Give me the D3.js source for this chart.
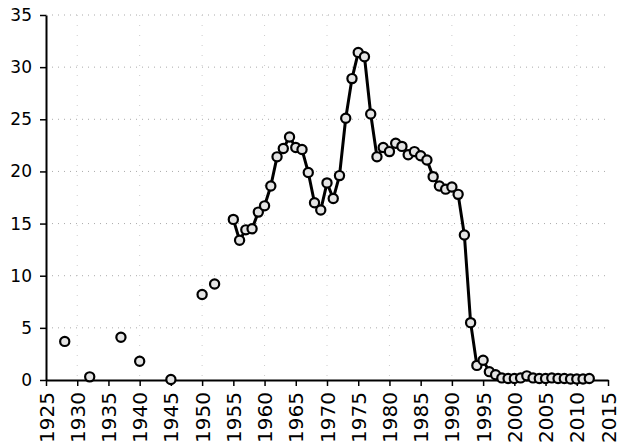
<!DOCTYPE html>
<html>
<head>
<meta charset="utf-8">
<script src="https://cdn.jsdelivr.net/npm/d3@7"></script>
<style>
  html, body { margin: 0; padding: 0; background: #fff; }
  svg { display: block; }
</style>
</head>
<body>
<svg id="chart" width="620" height="443"></svg>
<script>
// Early, unconnected observations
const scatterYears  = [1928, 1932, 1937, 1940, 1945, 1950, 1952];
const scatterValues = [3.7, 0.3, 4.1, 1.8, 0.05, 8.2, 9.2];

// Continuous annual series (connected)
const lineYears = [
  1955, 1956, 1957, 1958, 1959, 1960, 1961, 1962, 1963, 1964,
  1965, 1966, 1967, 1968, 1969, 1970, 1971, 1972, 1973, 1974,
  1975, 1976, 1977, 1978, 1979, 1980, 1981, 1982, 1983, 1984,
  1985, 1986, 1987, 1988, 1989, 1990, 1991, 1992, 1993, 1994,
  1995, 1996, 1997, 1998, 1999, 2000, 2001, 2002, 2003, 2004,
  2005, 2006, 2007, 2008, 2009, 2010, 2011, 2012
];
const lineValues = [
  15.4, 13.4, 14.4, 14.5, 16.1, 16.7, 18.6, 21.4, 22.2, 23.3,
  22.3, 22.1, 19.9, 17.0, 16.3, 18.9, 17.4, 19.6, 25.1, 28.9,
  31.4, 31.0, 25.5, 21.4, 22.3, 21.9, 22.7, 22.4, 21.6, 21.9,
  21.5, 21.1, 19.5, 18.6, 18.3, 18.5, 17.8, 13.9, 5.5, 1.4,
  1.9, 0.8, 0.5, 0.2, 0.15, 0.15, 0.2, 0.4, 0.2, 0.15,
  0.15, 0.2, 0.15, 0.15, 0.1, 0.1, 0.1, 0.15
];

const xTicks = [1925, 1930, 1935, 1940, 1945, 1950, 1955, 1960, 1965, 1970,
                1975, 1980, 1985, 1990, 1995, 2000, 2005, 2010, 2015];
const yTicks = [0, 5, 10, 15, 20, 25, 30, 35];

const svg = d3.select("#chart");
const margin = { left: 46, right: 12, top: 15, bottom: 63 };
const W = 620, H = 443;

const x = d3.scaleLinear().domain([1925, 2015]).range([margin.left, W - margin.right]);
const y = d3.scaleLinear().domain([0, 35]).range([H - margin.bottom, margin.top]);

// faint dotted gridlines
svg.append("g")
  .selectAll("line")
  .data(yTicks.slice(1))
  .join("line")
  .attr("x1", margin.left).attr("x2", W - margin.right)
  .attr("y1", d => y(d)).attr("y2", d => y(d))
  .attr("stroke", "#aaa").attr("stroke-width", 1)
  .attr("stroke-dasharray", "1,5");

svg.append("g")
  .selectAll("line")
  .data(xTicks.filter(d => d % 10 === 0))
  .join("line")
  .attr("x1", d => x(d)).attr("x2", d => x(d))
  .attr("y1", margin.top).attr("y2", H - margin.bottom)
  .attr("stroke", "#ccc").attr("stroke-width", 1)
  .attr("stroke-dasharray", "1,9");

const font = "'DejaVu Sans', sans-serif";

// axes
const yAxis = svg.append("g")
  .attr("transform", `translate(${margin.left},0)`)
  .call(d3.axisLeft(y).tickValues(yTicks).tickSize(6).tickSizeOuter(0).tickPadding(8));
yAxis.select(".domain").attr("stroke", "#000").attr("stroke-width", 2);
yAxis.selectAll(".tick line").attr("stroke", "#000").attr("stroke-width", 1.5);
yAxis.selectAll("text")
  .attr("fill", "#000")
  .style("font-family", font).style("font-size", "17px");

const xAxis = svg.append("g")
  .attr("transform", `translate(0,${H - margin.bottom})`)
  .call(d3.axisBottom(x).tickValues(xTicks).tickFormat(d3.format("d")).tickSize(6).tickSizeOuter(0).tickPadding(6));
xAxis.select(".domain").attr("stroke", "#000").attr("stroke-width", 2);
xAxis.selectAll(".tick line").attr("stroke", "#000").attr("stroke-width", 1.5);
xAxis.selectAll("text")
  .attr("fill", "#000")
  .attr("transform", "rotate(-90)")
  .attr("x", -12).attr("y", 0).attr("dy", "0.35em")
  .attr("text-anchor", "end")
  .style("font-family", font).style("font-size", "20px");

// connected series line
const line = d3.line().x((d, i) => x(lineYears[i])).y(d => y(d));
svg.append("path")
  .datum(lineValues)
  .attr("d", line)
  .attr("fill", "none")
  .attr("stroke", "#000")
  .attr("stroke-width", 3)
  .attr("stroke-linejoin", "round");

// markers
function drawMarkers(years, values) {
  svg.append("g")
    .selectAll("circle")
    .data(values)
    .join("circle")
    .attr("cx", (d, i) => x(years[i]))
    .attr("cy", d => y(d))
    .attr("r", 4.6)
    .attr("fill", "#e4e4e4")
    .attr("stroke", "#000")
    .attr("stroke-width", 2.2);
}
drawMarkers(scatterYears, scatterValues);
drawMarkers(lineYears, lineValues);
</script>
</body>
</html>
